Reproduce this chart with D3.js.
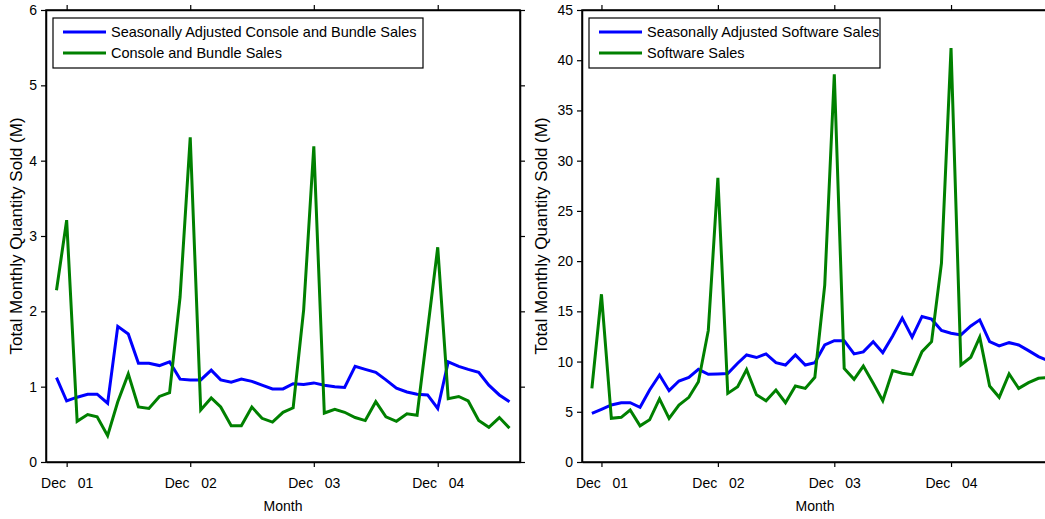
<!DOCTYPE html>
<html>
<head>
<meta charset="utf-8">
<script src="https://cdn.jsdelivr.net/npm/d3@7"></script>
<style>
  html, body { margin: 0; padding: 0; background: #fff; }
  svg { display: block; font-family: "Liberation Sans", Arial, Helvetica, sans-serif; }
  text { white-space: pre; }
</style>
</head>
<body>
<svg id="chart" width="1045" height="519"></svg>
<script>
// ---- Data ----
// Left panel: Nov 2001 .. Jul 2005
const consoleStart = new Date(2001, 10, 1);
const consoleAdjusted = [1.12, 0.81, 0.86, 0.90, 0.90, 0.78, 1.80, 1.70, 1.31, 1.31, 1.28, 1.33,
  1.10, 1.09, 1.09, 1.22, 1.09, 1.06, 1.10, 1.07, 1.02, 0.97, 0.97, 1.04, 1.03, 1.05, 1.02,
  1.00, 0.99, 1.27, 1.23, 1.19, 1.09, 0.98, 0.93, 0.90, 0.89, 0.71, 1.33, 1.27, 1.23, 1.19,
  1.02, 0.89, 0.80];
const consoleRaw = [2.28, 3.21, 0.54, 0.63, 0.60, 0.35, 0.80, 1.17, 0.73, 0.71, 0.87, 0.92,
  2.19, 4.31, 0.69, 0.85, 0.73, 0.48, 0.48, 0.73, 0.58, 0.53, 0.66, 0.72, 2.02, 4.19,
  0.65, 0.70, 0.66, 0.59, 0.55, 0.80, 0.60, 0.54, 0.64, 0.62, 1.75, 2.85, 0.84, 0.87,
  0.81, 0.55, 0.46, 0.59, 0.45];
// Right panel: Nov 2001 .. Oct 2005
const softwareStart = new Date(2001, 10, 1);
const softwareAdjusted = [4.85, 5.25, 5.68, 5.90, 5.90, 5.45, 7.17, 8.66, 7.10, 8.06, 8.43, 9.23,
  8.73, 8.76, 8.80, 9.83, 10.66, 10.40, 10.76, 9.89, 9.66, 10.66, 9.66, 9.89, 11.65, 12.08,
  12.08, 10.76, 10.96, 11.98, 10.89, 12.55, 14.32, 12.42, 14.49, 14.22, 13.09, 12.82, 12.65,
  13.55, 14.15, 11.98, 11.55, 11.88, 11.65, 11.09, 10.49, 10.10];
const softwareRaw = [7.33, 16.7, 4.35, 4.45, 5.18, 3.60, 4.20, 6.28, 4.35, 5.67, 6.44, 7.99,
  13.1, 28.3, 6.83, 7.49, 9.20, 6.69, 6.10, 7.16, 5.90, 7.56, 7.33, 8.43, 17.6, 38.6,
  9.32, 8.23, 9.55, 7.83, 6.10, 9.10, 8.83, 8.69, 10.98, 11.98, 19.8, 41.2, 9.66, 10.43,
  12.42, 7.56, 6.44, 8.76, 7.33, 7.90, 8.33, 8.40];

const xTickDates = [new Date(2001, 11, 1), new Date(2002, 11, 1), new Date(2003, 11, 1), new Date(2004, 11, 1)];
const xTickLabels = ["Dec   01", "Dec   02", "Dec   03", "Dec   04"];
const consoleTicks = [0, 1, 2, 3, 4, 5, 6];
const softwareTicks = [0, 5, 10, 15, 20, 25, 30, 35, 40, 45];
const consoleLegend = ["Seasonally Adjusted Console and Bundle Sales", "Console and Bundle Sales"];
const softwareLegend = ["Seasonally Adjusted Software Sales", "Software Sales"];
const yTitle = "Total Monthly Quantity Sold (M)";
const xTitle = "Month";
const colors = ["#0000ff", "#008000"];

// ---- Drawing ----
const svg = d3.select("#chart");

function months(start, n) {
  return d3.range(n).map(i => d3.timeMonth.offset(start, i));
}

function panel(opts) {
  const g = svg.append("g");
  const x = d3.scaleTime().domain(opts.xDomain).range([opts.left, opts.right]);
  const y = d3.scaleLinear().domain([opts.yTicks[0], opts.yTicks[opts.yTicks.length - 1]]).range([opts.bottom, opts.top]);

  const dates = months(opts.start, opts.series[0].length);
  const line = d3.line().x((d, i) => x(dates[i])).y(d => y(d));

  const clipId = "clip" + opts.left;
  svg.append("clipPath").attr("id", clipId).append("rect")
    .attr("x", opts.left).attr("y", opts.top)
    .attr("width", opts.right - opts.left).attr("height", opts.bottom - opts.top);

  opts.series.forEach((s, k) => {
    g.append("path").datum(s)
      .attr("clip-path", `url(#${clipId})`)
      .attr("fill", "none").attr("stroke", colors[k]).attr("stroke-width", 3)
      .attr("stroke-linejoin", "miter")
      .attr("d", line);
  });

  // axes
  const fmt = (d) => xTickLabels[xTickDates.findIndex(t => +t === +d)];
  const axB = g.append("g").attr("transform", `translate(0,${opts.bottom})`)
    .call(d3.axisBottom(x).tickValues(xTickDates).tickFormat(fmt).tickSizeInner(5).tickSizeOuter(0).tickPadding(11));
  const axT = g.append("g").attr("transform", `translate(0,${opts.top})`)
    .call(d3.axisTop(x).tickValues(xTickDates).tickFormat("").tickSizeInner(5).tickSizeOuter(0));
  const axL = g.append("g").attr("transform", `translate(${opts.left},0)`)
    .call(d3.axisLeft(y).tickValues(opts.yTicks).tickFormat(d3.format("d")).tickSizeInner(5).tickSizeOuter(0).tickPadding(4));
  const axR = g.append("g").attr("transform", `translate(${opts.right},0)`)
    .call(d3.axisRight(y).tickValues(opts.yTicks).tickFormat("").tickSizeInner(5).tickSizeOuter(0));
  [axB, axT, axL, axR].forEach(a => {
    a.selectAll("path.domain").attr("stroke", "#000").attr("stroke-width", 1.5);
    a.selectAll(".tick line").attr("stroke", "#000").attr("stroke-width", 1.2);
    a.selectAll("text").attr("fill", "#000").style("font-size", "14px")
      .style("font-family", "'Liberation Sans', Arial, sans-serif");
  });
  axB.selectAll("text").attr("dy", "0.71em");
  g.append("rect").attr("x", opts.left).attr("y", opts.top)
    .attr("width", opts.right - opts.left).attr("height", opts.bottom - opts.top)
    .attr("fill", "none").attr("stroke", "#000").attr("stroke-width", 1.5);

  // titles
  g.append("text").attr("x", (opts.left + opts.right) / 2).attr("y", 511)
    .attr("text-anchor", "middle").style("font-size", "14px").text(xTitle);
  g.append("text")
    .attr("transform", `translate(${opts.yTitleX},236) rotate(-90)`)
    .attr("text-anchor", "middle").style("font-size", "17px").text(yTitle);

  // legend
  const lg = g.append("g");
  lg.append("rect").attr("x", opts.legend.x).attr("y", 18)
    .attr("width", opts.legend.w).attr("height", 50)
    .attr("fill", "#fff").attr("stroke", "#000").attr("stroke-width", 1.2);
  opts.legendLabels.forEach((lab, k) => {
    const yy = 32 + k * 21;
    lg.append("line").attr("x1", opts.legend.x + 10).attr("x2", opts.legend.x + 53)
      .attr("y1", yy).attr("y2", yy).attr("stroke", colors[k]).attr("stroke-width", 3);
    lg.append("text").attr("x", opts.legend.x + 58).attr("y", yy).attr("dy", "0.35em")
      .style("font-size", "14.5px").text(lab);
  });
}

panel({
  left: 46, right: 520, top: 10, bottom: 462,
  xDomain: [new Date(2001, 9, 1), new Date(2005, 7, 1)],
  yTicks: consoleTicks, start: consoleStart,
  series: [consoleAdjusted, consoleRaw],
  legendLabels: consoleLegend, legend: { x: 53, w: 370 },
  yTitleX: 22
});
panel({
  left: 582, right: 1048, top: 10, bottom: 462,
  xDomain: [new Date(2001, 9, 1), new Date(2005, 9, 1)],
  yTicks: softwareTicks, start: softwareStart,
  series: [softwareAdjusted, softwareRaw],
  legendLabels: softwareLegend, legend: { x: 589, w: 291 },
  yTitleX: 547
});
</script>
</body>
</html>
